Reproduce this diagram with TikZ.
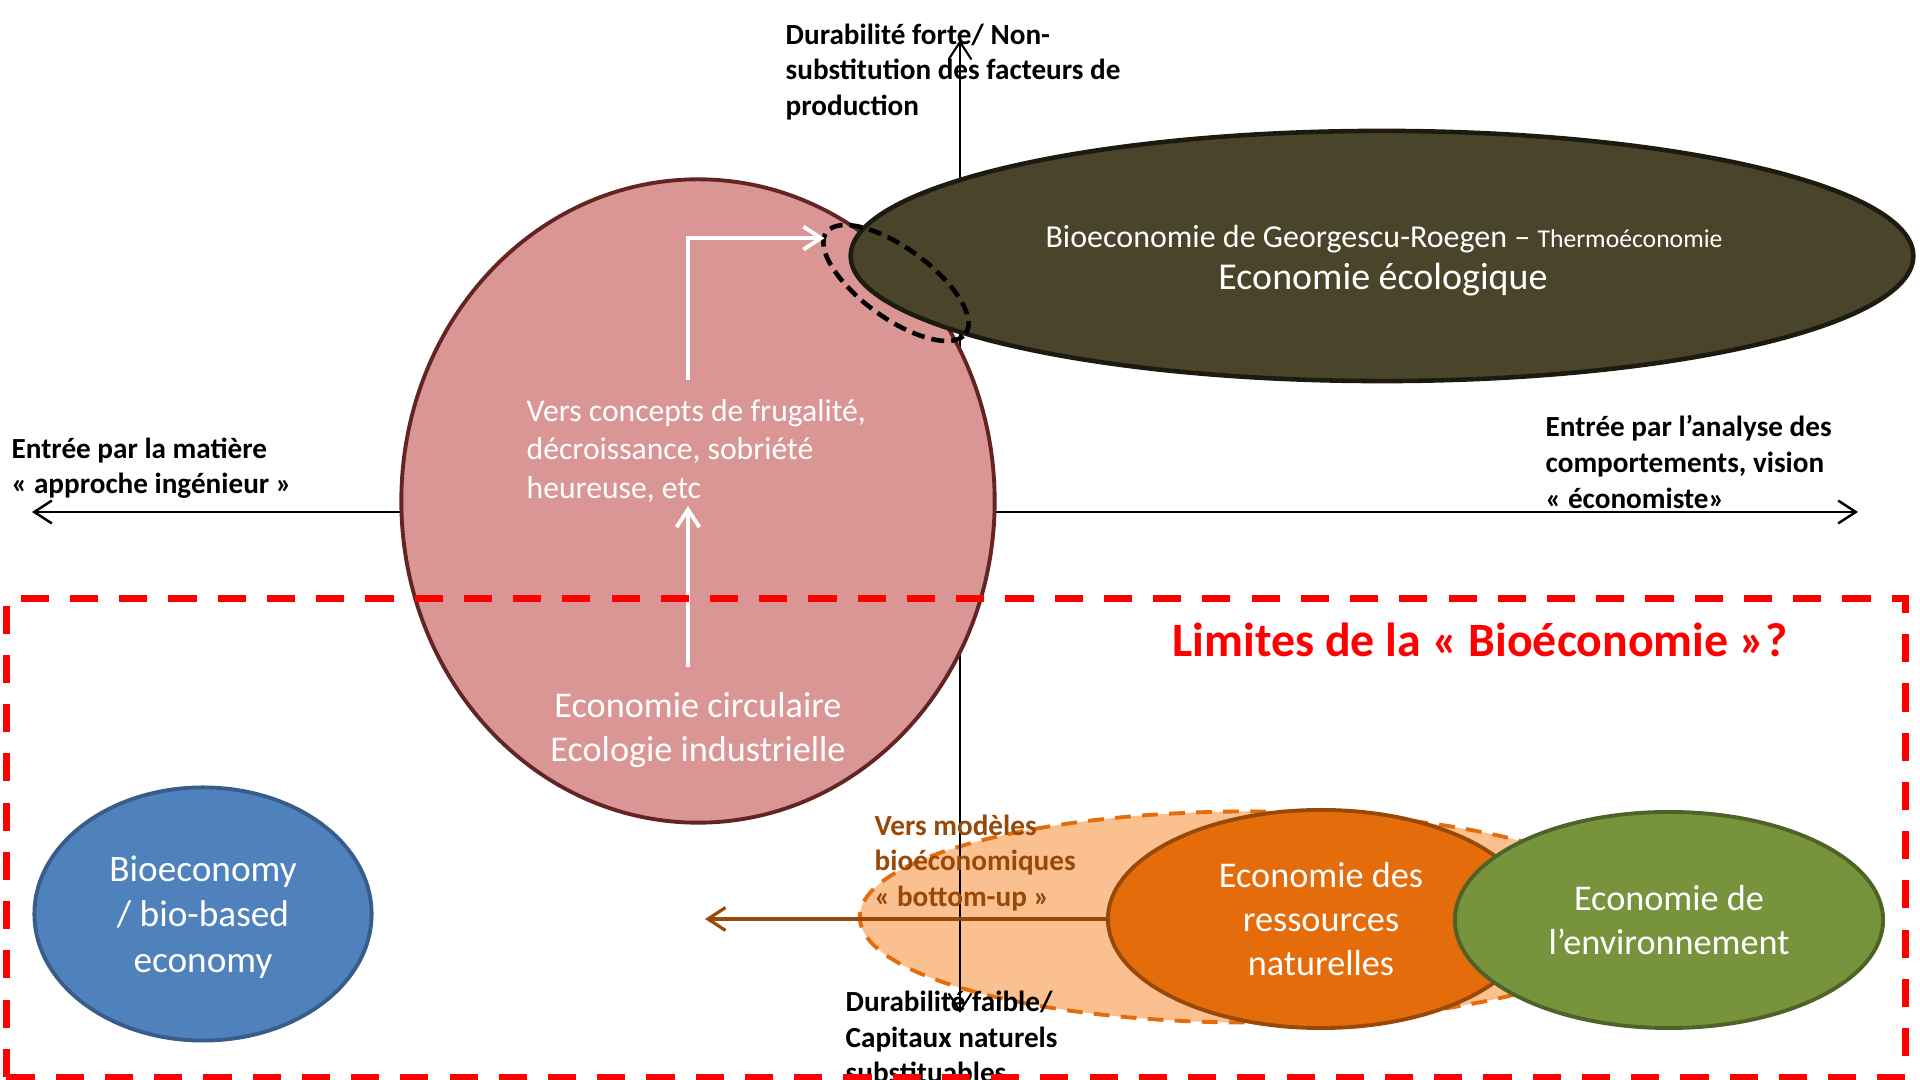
\documentclass[tikz,border=0pt]{standalone}
\usepackage{fontspec}
\setmainfont{Carlito}
\usetikzlibrary{arrows.meta}
\usetikzlibrary{shapes.geometric}

\begin{document}
\begin{tikzpicture}[x=0.01cm,y=-0.01cm,>={Straight Barb[length=5pt,width=6.5pt]},
    blob/.style={ellipse,inner sep=0pt,line width=1.1pt,text=white,align=center,
      font=\fontsize{10.3}{12.6}\selectfont},
    axlabel/.style={anchor=west,align=left,inner sep=0pt,
      font=\bfseries\fontsize{8.3}{10.1}\selectfont}
  ]
\definecolor{pinkfill}{RGB}{217,150,148}
\definecolor{pinkline}{RGB}{99,37,35}
\definecolor{olivefill}{RGB}{74,69,42}
\definecolor{oliveline}{RGB}{29,27,16}
\definecolor{bluefill}{RGB}{79,129,189}
\definecolor{blueline}{RGB}{56,93,138}
\definecolor{orfill}{RGB}{228,108,10}
\definecolor{orline}{RGB}{152,72,7}
\definecolor{lorfill}{RGB}{250,192,144}
\definecolor{grfill}{RGB}{119,147,60}
\definecolor{grline}{RGB}{79,98,40}

\useasboundingbox (0,0) rectangle (1920,1080);

% zone bottom-up, sous les axes
\node[blob,fill=lorfill,draw=orfill,dash pattern=on 4.5pt off 3.2pt,minimum width=7.8cm,minimum height=2.11cm] (bu) at (1250,917) {};

% axes
\coordinate (axl) at (32,512);
\coordinate (axr) at (1858,512);
\coordinate (axt) at (960,40);
\coordinate (axb) at (960,1013);
\draw[<->,line width=0.7pt] (axl) -- (axr);
\draw[<->,line width=0.6pt] (axb) -- (axt);

\coordinate (bl) at (705,919);

\node[blob,fill=pinkfill,draw=pinkline,minimum width=5.93cm,minimum height=6.43cm] (ec) at (698,501) {};
\node[blob,fill=olivefill,draw=oliveline,line width=1.3pt,minimum width=10.62cm,minimum height=2.5cm] (ee) at (1382,256) {};
\node[ellipse,draw=black,line width=1.3pt,dash pattern=on 3.7pt off 2pt,inner sep=0pt,minimum width=1.72cm,minimum height=0.7cm,rotate=-36] (ovl) at (896,283) {};

\node[anchor=base,text=white,font=\fontsize{9.1}{11}\selectfont] (geo) at (1384,248) {Bioeconomie de Georgescu-Roegen – {\fontsize{7.3}{9}\selectfont Thermoéconomie}};
\node[anchor=base,text=white,font=\fontsize{10.8}{13}\selectfont] (ecol) at (1383,290) {Economie écologique};

\node[anchor=west,align=left,inner sep=0pt,text=white,font=\fontsize{9}{11}\selectfont] (frug) at (526,451) {Vers concepts de frugalité,\\décroissance, sobriété\\heureuse, etc};
\node[align=center,inner sep=0pt,text=white,font=\fontsize{10.3}{12.5}\selectfont] (circ) at (698,730) {Economie circulaire\\Ecologie industrielle};

\coordinate (w1) at (688,667);
\coordinate (w2) at (688,506);
\coordinate (w3) at (688,380);
\draw[->,white,line width=1.1pt] (w1) -- (w2);
\draw[->,white,line width=1.1pt] (w3) |- ([yshift=-2pt]ovl.west);

\node[blob,fill=orfill,draw=orline,minimum width=4.26cm,minimum height=2.18cm] (ern) at (1321,919) {Economie des\\ressources\\naturelles};
\node[blob,fill=grfill,draw=grline,minimum width=4.28cm,minimum height=2.16cm] (env) at (1669,920) {Economie de\\l’environnement};
\node[blob,fill=bluefill,draw=blueline,minimum width=3.37cm,minimum height=2.53cm,text depth=0pt,font=\fontsize{10.6}{12.9}\selectfont] (bbe) at (203,914) {Bioeconomy\\/ bio-based\\economy};

\draw[->,orline,line width=0.9pt] (ern.west) -- (bl);

\node[axlabel] (dfor) at (785,72) {Durabilité forte/ Non-\\substitution des facteurs de\\production};
\node[axlabel] (dfai) at (845,1037) {Durabilité faible/\\Capitaux naturels\\substituables};
\node[axlabel] (emat) at (11,468) {Entrée par la matière\\« approche ingénieur »};
\node[axlabel] (eana) at (1545,462) {Entrée par l’analyse des\\comportements, vision\\« économiste»};
\node[axlabel,text=orline] (bup) at (874,863) {Vers modèles\\bioéconomiques\\« bottom-up »};

\node[draw=red,line width=2pt,dash pattern=on 8pt off 6pt,inner sep=0pt,minimum width=18.98cm,minimum height=4.78cm] (zone) at (956,838) {};
\node[anchor=base west,inner sep=0pt,text=red,font=\bfseries\fontsize{13.6}{16}\selectfont] (lim) at (1172,657) {Limites de la « Bioéconomie »?};

\end{tikzpicture}
\end{document}
